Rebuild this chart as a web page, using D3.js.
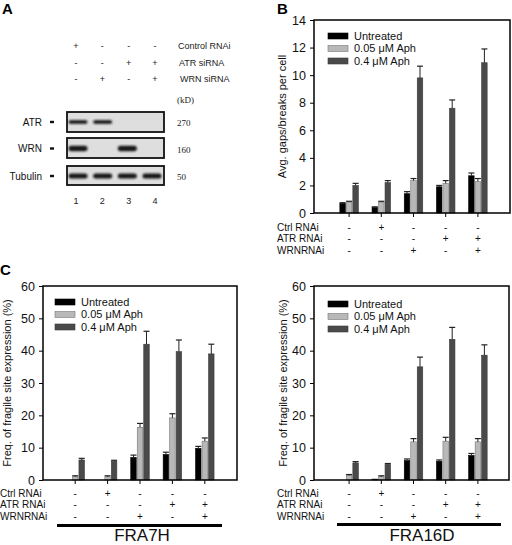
<!DOCTYPE html>
<html><head><meta charset="utf-8">
<script src="https://cdn.jsdelivr.net/npm/d3@7"></script>
<style>
body{margin:0;background:#fff;}
svg{display:block;font-family:"Liberation Sans",Arial,sans-serif;}
</style></head>
<body><svg id="c" width="512" height="545"></svg>
<script>
// ---------- DATA ----------
const groups = ["g1","g2","g3","g4","g5"];
const seriesNames = ["Untreated","0.05 \u03bcM Aph","0.4 \u03bcM Aph"];
const ctrlSigns = ["-","+","-","-","-"];
const atrSigns  = ["-","-","-","+","+"];
const wrnSigns  = ["-","-","+","-","+"];
const rowLabels = ["Ctrl RNAi","ATR RNAi","WRNRNAi"];

// Panel B: avg gaps/breaks per cell
const bUntreated = [0.7, 0.4, 1.4, 1.9, 2.7];
const bLow       = [0.8, 0.8, 2.35, 2.15, 2.3];
const bHigh      = [2.0, 2.2, 9.8, 7.6, 10.9];
const bUntreatedErr = [0.05, 0.05, 0.15, 0.1, 0.2];
const bLowErr       = [0.05, 0.05, 0.15, 0.2, 0.2];
const bHighErr      = [0.15, 0.15, 0.85, 0.6, 1.0];
const bTicks = [0,2,4,6,8,10,12,14];

// Panel C: FRA7H
const c7Untreated = [0, 0, 7.0, 7.9, 9.8];
const c7Low       = [1.0, 1.0, 16.3, 19.2, 12.0];
const c7High      = [6.2, 5.8, 42.0, 39.7, 39.0];
const c7UntreatedErr = [0, 0, 0.7, 0.7, 0.6];
const c7LowErr       = [0.3, 0.3, 1.2, 1.3, 1.0];
const c7HighErr      = [0.5, 0.3, 4.0, 3.6, 3.0];
// Panel C: FRA16D
const c16Untreated = [0, 0.2, 6.0, 5.8, 7.6];
const c16Low       = [1.4, 1.0, 11.8, 12.0, 11.8];
const c16High      = [5.3, 4.8, 35.0, 43.5, 38.6];
const c16UntreatedErr = [0, 0, 0.5, 0.4, 0.6];
const c16LowErr       = [0.3, 0.3, 1.0, 1.2, 1.0];
const c16HighErr      = [0.4, 0.3, 3.0, 3.7, 3.2];
const cTicks = [0,10,20,30,40,50,60];

// Panel A: western blot
const lanes = ["1","2","3","4"];
const blotHeaders = ["Control RNAi","ATR siRNA","WRN siRNA"];
const blotCtrl = ["+","-","-","-"];
const blotATR  = ["-","-","+","+"];
const blotWRN  = ["-","+","-","+"];
const blotProteins = ["ATR","WRN","Tubulin"];
const blotKD = ["270","160","50"];
const atrBand = [1,1,0,0];
const wrnBand = [1,0,1,0];
const tubBand = [1,1,1,1];

// ---------- DRAW ----------
const svg = d3.select("#c");
const colors = ["#000000","#b8b8b8","#4a4a4a"];
const strokes = ["#000000","#777777","#3a3a3a"];

svg.append("defs").append("filter").attr("id","blur")
  .attr("x","-20%").attr("y","-60%").attr("width","140%").attr("height","220%")
  .append("feGaussianBlur").attr("stdDeviation",0.9);

function panelLetter(t,x,y){
  svg.append("text").attr("x",x).attr("y",y).attr("font-size",15)
    .attr("font-weight","bold").text(t);
}

function barChart(o){
  const g = svg.append("g");
  const y = d3.scaleLinear().domain(o.yDomain).range([o.bottom,o.top]);
  const x = d3.scaleBand().domain(groups).range(o.band).padding(0);
  const offs = [-6.5,0,6.5], bw = 5.5;
  // axes
  const ya = g.append("g").attr("transform",`translate(${o.left},0)`)
    .call(d3.axisLeft(y).tickValues(o.ticks).tickSize(4).tickPadding(4).tickFormat(d3.format("d")));
  ya.select(".domain").remove();
  ya.selectAll("text").attr("font-size",12.5).attr("font-family","Liberation Sans, Arial, sans-serif").attr("fill","#111");
  ya.selectAll("line").attr("stroke","#000");
  const xa = g.append("g").attr("transform",`translate(0,${o.bottom})`)
    .call(d3.axisBottom(x).tickSize(4).tickFormat(""));
  xa.select(".domain").remove();
  xa.selectAll("line").attr("stroke","#000");
  // bars
  o.series.forEach((vals,si)=>{
    vals.forEach((v,i)=>{
      const cx = x(groups[i]) + x.bandwidth()/2 + offs[si];
      if(v>0){
        g.append("rect").attr("x",cx-bw/2).attr("width",bw)
          .attr("y",y(v)).attr("height",o.bottom-y(v))
          .attr("fill",colors[si]).attr("stroke",strokes[si]).attr("stroke-width",0.6);
      }
      const e = o.errs[si][i];
      if(v>0 || e>0){
        const top = y(v+e);
        g.append("line").attr("x1",cx).attr("x2",cx).attr("y1",y(v)).attr("y2",top)
          .attr("stroke","#222").attr("stroke-width",1);
        g.append("line").attr("x1",cx-3).attr("x2",cx+3).attr("y1",top).attr("y2",top)
          .attr("stroke","#222").attr("stroke-width",1.2);
      }
    });
  });
  // frame
  g.append("rect").attr("x",o.left).attr("y",o.top).attr("width",o.right-o.left)
    .attr("height",o.bottom-o.top).attr("fill","none").attr("stroke","#000").attr("stroke-width",1.5);
  // y label
  g.append("text").attr("transform",`translate(${o.ylx},${(o.top+o.bottom)/2}) rotate(-90)`)
    .attr("text-anchor","middle").attr("font-size",11).attr("fill","#111").text(o.ylabel);
  // legend
  seriesNames.forEach((s,i)=>{
    const ly = o.legY + i*12.5;
    g.append("rect").attr("x",o.legX).attr("y",ly-3).attr("width",20).attr("height",6)
      .attr("fill",colors[i]).attr("stroke",strokes[i]).attr("stroke-width",0.6);
    g.append("text").attr("x",o.legX+26).attr("y",ly).attr("dy","0.35em")
      .attr("font-size",11).attr("fill","#111").text(s);
  });
  // sign rows
  [ctrlSigns,atrSigns,wrnSigns].forEach((row,ri)=>{
    const ry = o.rowY + ri*11.5;
    g.append("text").attr("x",o.rowLabelX).attr("y",ry).attr("dy","0.35em")
      .attr("font-size",10).attr("fill","#111").text(rowLabels[ri]);
    row.forEach((s,i)=>{
      g.append("text").attr("x",x(groups[i])+x.bandwidth()/2).attr("y",ry).attr("dy","0.35em")
        .attr("text-anchor","middle").attr("font-size",10).attr("fill","#111").text(s);
    });
  });
  return {x,y};
}

// Panel A
panelLetter("A",2,14);
const lx = d3.scalePoint().domain(lanes).range([78,152]);
const hx = d3.scalePoint().domain(lanes).range([76,155]);
[blotCtrl,blotATR,blotWRN].forEach((row,ri)=>{
  const yy = 46 + ri*16.5;
  row.forEach((s,i)=>{
    svg.append("text").attr("x",hx(lanes[i])).attr("y",yy).attr("dy","0.35em")
      .attr("text-anchor","middle").attr("font-size",9).attr("fill","#222").text(s);
  });
  svg.append("text").attr("x",178+ri*1).attr("y",yy).attr("dy","0.35em")
    .attr("font-size",9).attr("fill","#222").text(blotHeaders[ri]);
});
svg.append("text").attr("x",177).attr("y",100).attr("dy","0.35em")
  .attr("font-family","Liberation Serif, serif").attr("font-size",9).attr("fill","#222").text("(kD)");
const blotRows = [
  {band:atrBand, y0:112, y1:132, by:122, th:3.5},
  {band:wrnBand, y0:138, y1:158, by:148.5, th:5.5},
  {band:tubBand, y0:166, y1:185, by:176, th:5}
];
blotRows.forEach((r,ri)=>{
  svg.append("rect").attr("x",67).attr("y",r.y0).attr("width",97).attr("height",r.y1-r.y0)
    .attr("fill","#dedede").attr("stroke","#111").attr("stroke-width",1.8);
  r.band.forEach((b,i)=>{
    if(b){
      svg.append("rect").attr("x",lx(lanes[i])-9.5).attr("y",r.by-r.th/2)
        .attr("width",19).attr("height",r.th).attr("rx",r.th/2)
        .attr("fill","#141414").attr("filter","url(#blur)");
    }
  });
  svg.append("text").attr("x",42).attr("y",r.by).attr("dy","0.35em").attr("text-anchor","end")
    .attr("font-size",10).attr("fill","#111").text(blotProteins[ri]);
  svg.append("rect").attr("x",50).attr("y",r.by-1.2).attr("width",4).attr("height",2.4).attr("fill","#111");
  svg.append("text").attr("x",177).attr("y",r.by+1).attr("dy","0.35em")
    .attr("font-family","Liberation Serif, serif").attr("font-size",9).attr("fill","#222").text(blotKD[ri]);
});
lanes.forEach((l,i)=>{
  svg.append("text").attr("x",hx(l)).attr("y",201).attr("dy","0.35em").attr("text-anchor","middle")
    .attr("font-size",9).attr("fill","#222").text(l);
});

// Panel B
panelLetter("B",277,14);
barChart({left:314,right:510,top:20,bottom:213,yDomain:[0,14],ticks:bTicks,band:[333,494],
  series:[bUntreated,bLow,bHigh],errs:[bUntreatedErr,bLowErr,bHighErr],
  ylabel:"Avg. gaps/breaks per cell",ylx:286,legX:328,legY:36,rowY:227,rowLabelX:277});

// Panel C
panelLetter("C",0,275);
barChart({left:43,right:237,top:286,bottom:480,yDomain:[0,60],ticks:cTicks,band:[59,221],
  series:[c7Untreated,c7Low,c7High],errs:[c7UntreatedErr,c7LowErr,c7HighErr],
  ylabel:"Freq. of fragile site expression (%)",ylx:11,legX:55,legY:302,rowY:493,rowLabelX:0});
barChart({left:314,right:509,top:286,bottom:480,yDomain:[0,60],ticks:cTicks,band:[333,494],
  series:[c16Untreated,c16Low,c16High],errs:[c16UntreatedErr,c16LowErr,c16HighErr],
  ylabel:"Freq. of fragile site expression (%)",ylx:287,legX:328,legY:304,rowY:493,rowLabelX:277});

svg.append("line").attr("x1",57).attr("x2",222).attr("y1",525.5).attr("y2",525.5).attr("stroke","#000").attr("stroke-width",3);
svg.append("line").attr("x1",337).attr("x2",501).attr("y1",524.5).attr("y2",524.5).attr("stroke","#000").attr("stroke-width",3);
svg.append("text").attr("x",142).attr("y",541).attr("text-anchor","middle").attr("font-size",17).attr("fill","#111").text("FRA7H");
svg.append("text").attr("x",422).attr("y",541).attr("text-anchor","middle").attr("font-size",17).attr("fill","#111").text("FRA16D");
</script>
</body></html>
